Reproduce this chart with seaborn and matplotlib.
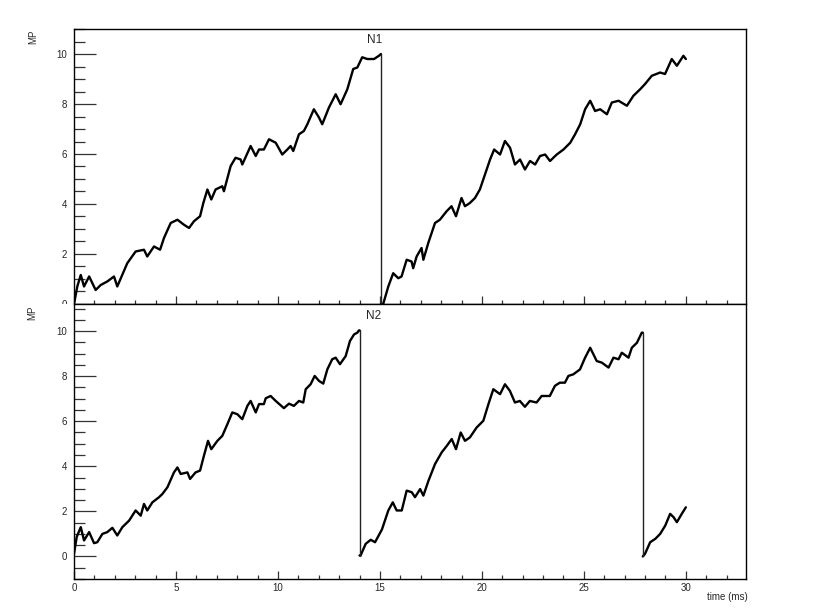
import matplotlib
matplotlib.use("Agg")
import matplotlib.pyplot as plt
import pandas as pd
import seaborn as sns
from matplotlib.patches import Rectangle
from matplotlib.ticker import MultipleLocator

# values (time in ms, membrane potential)
n1_time = [0.0, 0.16, 0.33, 0.49, 0.74, 1.06, 1.31, 1.63, 1.96, 2.12, 2.61, 3.02, 3.43, 3.59,
           3.92, 4.22, 4.41, 4.74, 5.07, 5.39, 5.64, 5.88, 6.18, 6.34, 6.54, 6.73, 6.94, 7.27,
           7.35, 7.68, 7.92, 8.17, 8.25, 8.66, 8.91, 9.07, 9.31, 9.56, 9.89, 10.21, 10.46,
           10.62, 10.75, 11.03, 11.27, 11.44, 11.76, 12.01, 12.17, 12.5, 12.83, 13.07, 13.4,
           13.69, 13.89, 14.13, 14.38, 14.71, 14.95, 15.05, 15.05, 15.16, 15.41, 15.65, 15.9,
           16.06, 16.31, 16.55, 16.63, 16.8, 17.04, 17.13, 17.37, 17.7, 17.94, 18.27, 18.51,
           18.73, 19.0, 19.17, 19.41, 19.66, 19.9, 20.15, 20.4, 20.6, 20.89, 21.13, 21.38,
           21.62, 21.87, 22.11, 22.36, 22.61, 22.85, 23.1, 23.34, 23.67, 24.0, 24.33, 24.57,
           24.82, 25.06, 25.31, 25.55, 25.8, 26.13, 26.37, 26.7, 27.11, 27.43, 27.76, 28.0,
           28.33, 28.74, 28.98, 29.31, 29.56, 29.88, 30.0]
n1_mp = [0.0, 0.7, 1.16, 0.7, 1.1, 0.56, 0.76, 0.9, 1.1, 0.7, 1.63, 2.1, 2.17, 1.9,
         2.3, 2.17, 2.64, 3.24, 3.37, 3.17, 3.04, 3.31, 3.51, 4.04, 4.58, 4.18, 4.58, 4.71,
         4.51, 5.52, 5.85, 5.78, 5.58, 6.32, 5.92, 6.18, 6.18, 6.59, 6.45, 5.98, 6.18,
         6.32, 6.12, 6.79, 6.92, 7.19, 7.79, 7.46, 7.19, 7.86, 8.39, 7.99, 8.59,
         9.4, 9.46, 9.87, 9.8, 9.8, 9.93, 10.0, 0.0, 0.0, 0.7, 1.23, 1.03,
         1.1, 1.77, 1.7, 1.43, 1.9, 2.24, 1.77, 2.44, 3.24, 3.37, 3.71, 3.91,
         3.51, 4.24, 3.91, 4.04, 4.24, 4.58, 5.18, 5.78, 6.18, 5.98, 6.52, 6.25,
         5.58, 5.78, 5.38, 5.72, 5.58, 5.92, 5.98, 5.72, 5.98, 6.18, 6.45, 6.79,
         7.19, 7.79, 8.13, 7.72, 7.79, 7.59, 8.06, 8.13, 7.93, 8.33, 8.59, 8.8,
         9.13, 9.26, 9.2, 9.8, 9.53, 9.93, 9.8]

n2_time = [0.0, 0.13, 0.33, 0.49, 0.74, 0.98, 1.14, 1.39, 1.63, 1.88, 2.12, 2.37, 2.7, 3.02,
           3.27, 3.43, 3.59, 3.84, 4.17, 4.33, 4.58, 4.9, 5.07, 5.23, 5.56, 5.69, 5.96, 6.18,
           6.37, 6.57, 6.73, 7.03, 7.27, 7.52, 7.76, 8.01, 8.25, 8.5, 8.66, 8.91, 9.07, 9.31,
           9.4, 9.64, 9.89, 10.29, 10.54, 10.78, 11.03, 11.24, 11.36, 11.6, 11.8, 12.01,
           12.22, 12.42, 12.66, 12.83, 13.04, 13.32, 13.53, 13.73, 13.89, 13.97, 14.0, 14.0,
           14.05, 14.3, 14.55, 14.76, 15.1, 15.41, 15.63, 15.82, 16.07, 16.31, 16.56, 16.72,
           16.97, 17.13, 17.38, 17.7, 18.03, 18.28, 18.52, 18.73, 18.96, 19.17, 19.41, 19.74,
           20.07, 20.32, 20.56, 20.89, 21.13, 21.37, 21.62, 21.86, 22.11, 22.35, 22.68,
           22.93, 23.33, 23.58, 23.82, 24.07, 24.24, 24.48, 24.81, 25.06, 25.31, 25.63,
           25.88, 26.21, 26.45, 26.7, 26.86, 27.19, 27.35, 27.6, 27.84, 27.89, 27.89, 28.0,
           28.25, 28.5, 28.74, 28.99, 29.23, 29.4, 29.56, 29.8, 30.0]
n2_mp = [0.12, 0.86, 1.3, 0.71, 1.08, 0.59, 0.63, 1.0, 1.08, 1.27, 0.93, 1.3, 1.59, 2.04,
         1.81, 2.33, 2.04, 2.4, 2.63, 2.77, 3.07, 3.73, 3.95, 3.66, 3.73, 3.44, 3.73, 3.81,
         4.47, 5.13, 4.76, 5.13, 5.35, 5.87, 6.39, 6.31, 6.09, 6.68, 6.9, 6.39, 6.76, 6.76,
         7.02, 7.12, 6.9, 6.58, 6.78, 6.68, 6.9, 6.83, 7.42, 7.64, 8.01, 7.79,
         7.67, 8.3, 8.75, 8.82, 8.53, 8.89, 9.56, 9.85, 9.93, 10.03, 10.03, 0.04,
         0.04, 0.56, 0.74, 0.63, 1.2, 2.04, 2.4, 2.04, 2.04, 2.92, 2.85, 2.63,
         2.99, 2.7, 3.36, 4.1, 4.62, 4.91, 5.21, 4.76, 5.5, 5.13, 5.28, 5.72,
         6.02, 6.76, 7.42, 7.2, 7.64, 7.35, 6.83, 6.9, 6.64, 6.9, 6.83,
         7.12, 7.12, 7.57, 7.71, 7.71, 8.01, 8.08, 8.3, 8.82, 9.26, 8.67,
         8.6, 8.38, 8.82, 8.75, 9.04, 8.82, 9.26, 9.48, 9.93, 9.93, 0.0, 0.12,
         0.63, 0.78, 1.0, 1.37, 1.89, 1.74, 1.52, 1.89, 2.18]


def make_frame(t, v):
    df = pd.DataFrame({"time": t, "MP": v})
    # a repeated time value marks a reset (spike); split the trace there
    df["seg"] = (df["time"].diff() == 0).cumsum()
    return df


df1 = make_frame(n1_time, n1_mp)
df2 = make_frame(n2_time, n2_mp)

sns.set_style("ticks")
plt.rcParams["font.family"] = ["Liberation Sans", "DejaVu Sans"]

fig = plt.figure(figsize=(8.3, 6.11), dpi=100)
ax1 = fig.add_axes([0.0892, 0.5025, 0.8096, 0.450])
ax2 = fig.add_axes([0.0892, 0.0524, 0.8096, 0.450])
ax1.set_zorder(0)
ax2.set_zorder(2)
# lower pad covers the full width, like the reference
fig.patches.append(Rectangle((0, 0), 1, 0.5025, transform=fig.transFigure,
                             facecolor="white", edgecolor="none", zorder=1))

for ax, df in ((ax1, df1), (ax2, df2)):
    sns.lineplot(data=df, x="time", y="MP", units="seg", ax=ax, color="black",
                 linewidth=1.7, estimator=None, sort=False)
    # thin vertical reset lines
    resets = df.index[df["time"].diff() == 0]
    for i in resets:
        ax.plot(df["time"].iloc[i - 1:i + 1], df["MP"].iloc[i - 1:i + 1],
                color="#222222", linewidth=1.0)

ax1.set_ylim(0, 11.0)
ax2.set_ylim(-1, 11.2)
for ax in (ax1, ax2):
    ax.set_xlim(0, 32.95)
    ax.xaxis.set_major_locator(MultipleLocator(5))
    ax.xaxis.set_minor_locator(MultipleLocator(1))
    ax.yaxis.set_major_locator(MultipleLocator(2))
    ax.yaxis.set_minor_locator(MultipleLocator(0.5))
    ax.tick_params(axis="y", which="major", direction="in", length=16, width=0.9,
                   labelsize=7, pad=5, color="#333333")
    ax.tick_params(axis="y", which="minor", direction="in", length=8, width=0.9,
                   color="#333333")
    ax.tick_params(axis="x", which="major", direction="in", length=6, width=0.9,
                   labelsize=7, pad=3, color="#333333")
    ax.tick_params(axis="x", which="minor", direction="in", length=3, width=0.9,
                   color="#333333")
    for side in ax.spines.values():
        side.set_visible(True)
        side.set_linewidth(1.0)
        side.set_color("black")
    ax.set_xlabel("")
    ax.set_ylabel("")

ax1.tick_params(axis="x", labelbottom=False)

fig.text(0.040, 0.940, "MP", rotation=90, fontsize=7, ha="center", va="center")
fig.text(0.039, 0.488, "MP", rotation=90, fontsize=7, ha="center", va="center")
fig.text(0.901, 0.023, "time (ms)", fontsize=7, ha="right", va="center")
fig.text(0.451, 0.935, "N1", fontsize=8.5, ha="center", va="center")
fig.text(0.450, 0.482, "N2", fontsize=8.5, ha="center", va="center")

fig.savefig("out.png", dpi=100)
